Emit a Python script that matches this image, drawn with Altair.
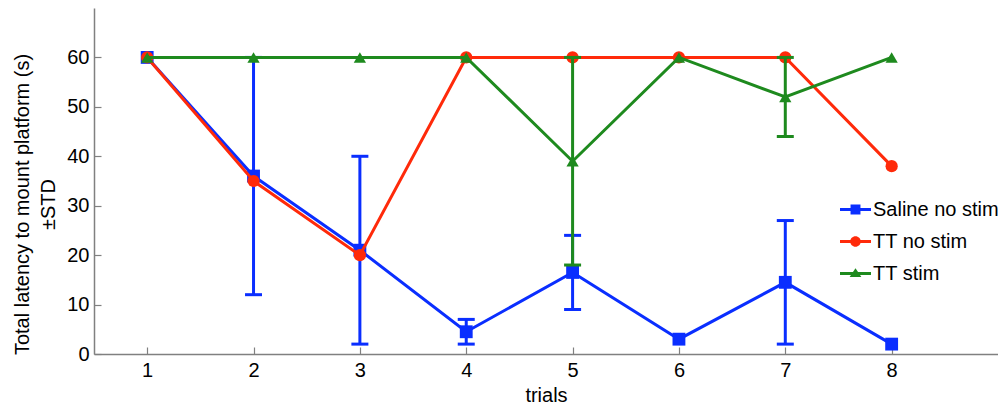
import altair as alt
import pandas as pd

# ---- data ----
series_names = ["Saline no stim", "TT no stim", "TT stim"]
series_colors = ["#0a2eff", "#ff2a0a", "#1e8a1e"]
point_shapes = ["square", "circle", "triangle-up"]
point_sizes = [165, 150, 150]
legend_paths = [
    "M-1,-0.1H1V0.1H-1Z M-0.32,-0.32H0.32V0.32H-0.32Z",
    "M-1,-0.1H1V0.1H-1Z M0.34,0A0.34,0.34 0 1,1 -0.34,0A0.34,0.34 0 1,1 0.34,0Z",
    "M-1,-0.1H1V0.1H-1Z M0,-0.34L0.38,0.22L-0.38,0.22Z",
]
trials = [1, 2, 3, 4, 5, 6, 7, 8]
saline_mean = [60, 36, 21, 4.5, 16.5, 3, 14.5, 2]
saline_std = [0, 24, 19, 2.5, 7.5, 0, 12.5, 0]
tt_nostim_mean = [60, 35, 20, 60, 60, 60, 60, 38]
tt_nostim_std = [0, 0, 0, 0, 0, 0, 0, 0]
tt_stim_mean = [60, 60, 60, 60, 39, 60, 52, 60]
tt_stim_std = [0, 0, 0, 0, 21, 0, 8, 0]
x_tick_values = [1, 2, 3, 4, 5, 6, 7, 8]
y_tick_values = [0, 10, 20, 30, 40, 50, 60]

means = [saline_mean, tt_nostim_mean, tt_stim_mean]
stds = [saline_std, tt_nostim_std, tt_stim_std]
rows = []
for name, m, s in zip(series_names, means, stds):
    for t, mv, sv in zip(trials, m, s):
        rows.append({"trial": t, "series": name, "mean": mv, "std": sv})
df = pd.DataFrame(rows)

FONT = "Liberation Sans"
W, H = 904, 346
AX = "#808080"

xscale = alt.Scale(domain=[0.5, 9], nice=False, zero=False)
yscale = alt.Scale(domain=[0, 70], nice=False)
cscale = alt.Scale(domain=series_names, range=series_colors)

base = alt.Chart(df)

x_main_axis = alt.Axis(orient="bottom", values=x_tick_values, format="d", tickSize=0,
                       labelFontSize=20, labelColor="black", labelPadding=6,
                       domainColor=AX, domainWidth=1.5, grid=False,
                       title="trials", titleFontSize=20, titleFontWeight="normal",
                       titleColor="black", titlePadding=5)
y_main_axis = alt.Axis(orient="left", values=y_tick_values, format="d", tickSize=0,
                       labelFontSize=20, labelColor="black", labelPadding=5,
                       domainColor=AX, domainWidth=1.5, grid=False,
                       title=["Total latency to mount platform (s)", "±STD"],
                       titleFontSize=20, titleFontWeight="normal", titleColor="black",
                       titleLineHeight=26, titleX=-62, titleY=196, titleBaseline="bottom")
x_tick_axis = alt.Axis(orient="top", offset=-H, values=x_tick_values, labels=False,
                       domain=False, tickSize=7, tickColor=AX, tickWidth=1.2,
                       grid=False, title="")
y_tick_axis = alt.Axis(orient="right", offset=-W, values=y_tick_values, labels=False,
                       domain=False, tickSize=7, tickColor=AX, tickWidth=1.2,
                       grid=False, title="")


def series_layers(idx):
    name = series_names[idx]
    src = base.transform_filter(alt.datum.series == name)
    first = idx == 0
    xa = x_main_axis if first else None
    ya = y_main_axis if first else None
    color = alt.Color("series:N", scale=cscale, legend=None)
    line = src.mark_line(strokeWidth=3).encode(
        x=alt.X("trial:Q", scale=xscale, axis=xa),
        y=alt.Y("mean:Q", scale=yscale, axis=ya),
        color=color,
    )
    err_src = src.transform_filter(alt.datum.std > 0).transform_calculate(
        lo="datum.mean - datum.std", hi="datum.mean + datum.std")
    rule = err_src.mark_rule(strokeWidth=3).encode(
        x=alt.X("trial:Q", scale=xscale, axis=None),
        y=alt.Y("lo:Q", scale=yscale, axis=None),
        y2="hi:Q",
        color=color,
    )
    cap_lo = err_src.mark_tick(orient="horizontal", size=17, thickness=3, opacity=1).encode(
        x=alt.X("trial:Q", scale=xscale, axis=None),
        y=alt.Y("lo:Q", scale=yscale, axis=None),
        color=color,
    )
    cap_hi = err_src.mark_tick(orient="horizontal", size=17, thickness=3, opacity=1).encode(
        x=alt.X("trial:Q", scale=xscale, axis=None),
        y=alt.Y("hi:Q", scale=yscale, axis=None),
        color=color,
    )
    pts = src.mark_point(filled=True, opacity=1, shape=point_shapes[idx],
                         size=point_sizes[idx]).encode(
        x=alt.X("trial:Q", scale=xscale, axis=None),
        y=alt.Y("mean:Q", scale=yscale, axis=None),
        color=color,
    )
    return [line, rule, cap_lo, cap_hi, pts]


layers = []
for i in range(len(series_names)):
    layers += series_layers(i)

legend_def = alt.Legend(orient="none", legendX=746, legendY=186, title=None,
                        labelFontSize=20, labelColor="black", labelFont=FONT,
                        symbolSize=961, symbolStrokeWidth=0, symbolOpacity=1,
                        labelOffset=2, rowPadding=6, padding=0)
legend_layer = base.transform_filter("false").mark_point(filled=True, opacity=1).encode(
    x=alt.X("trial:Q", scale=xscale, axis=x_tick_axis),
    y=alt.Y("mean:Q", scale=yscale, axis=y_tick_axis),
    fill=alt.Fill("series:N", scale=alt.Scale(domain=series_names, range=series_colors),
                  legend=legend_def),
    shape=alt.Shape("series:N", scale=alt.Scale(domain=series_names, range=legend_paths),
                    legend=legend_def),
)
layers.append(legend_layer)

chart = alt.layer(*layers).resolve_scale(
    fill="independent", shape="independent"
).resolve_axis(
    x="independent", y="independent"
).properties(
    width=W, height=H,
    autosize=alt.AutoSizeParams(type="none"),
    padding={"left": 86, "top": 0, "right": 0, "bottom": 55},
).configure(font=FONT).configure_view(stroke="transparent")

chart.save("out.html", embed_options={"renderer": "svg", "actions": False})
